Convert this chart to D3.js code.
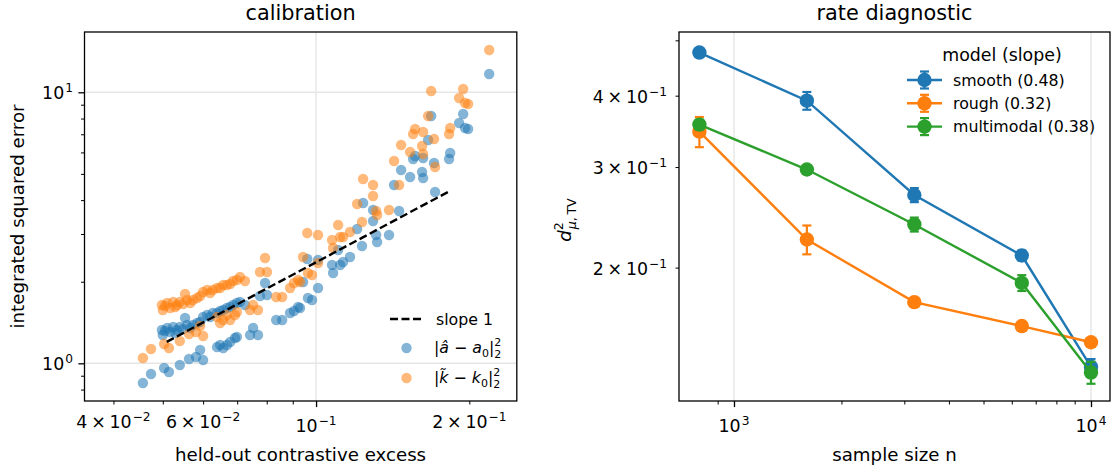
<!DOCTYPE html>
<html>
<head>
<meta charset="utf-8">
<script src="https://cdn.jsdelivr.net/npm/d3@7"></script>
<style>
  body { margin: 0; background: #fff; }
  text { font-family: "DejaVu Sans", sans-serif; fill: #000; }
</style>
</head>
<body>
<svg id="fig" width="1112" height="470"></svg>
<script>
// calibration: held-out contrastive excess vs integrated squared error
var excess = [0.0457, 0.0474, 0.0503, 0.0514, 0.0540, 0.0563, 0.0581, 0.0600, 0.0592,
	0.0498, 0.0500, 0.0510, 0.0517, 0.0524, 0.0533, 0.0540, 0.0553, 0.0558, 0.0566, 0.0573,
	0.0584, 0.0592, 0.0600, 0.0611, 0.0619, 0.0627, 0.0639, 0.0648, 0.0657, 0.0668, 0.0678,
	0.0687, 0.0699, 0.0709, 0.0725, 0.0505, 0.0529, 0.0548,
	0.0639, 0.0648, 0.0657, 0.0668, 0.0678, 0.0693, 0.0699, 0.0742, 0.0752, 0.0769,
	0.0776, 0.0794, 0.0801, 0.0835, 0.0858, 0.0889, 0.0905, 0.0922, 0.0943, 0.0930, 0.0961,
	0.0982, 0.1009, 0.1009, 0.0964, 0.1075, 0.1080, 0.1115, 0.1130, 0.1166, 0.1105, 0.1231,
	0.1204, 0.1237, 0.1294, 0.1294, 0.1312, 0.1318, 0.1391, 0.1423, 0.1456, 0.1469, 0.1530,
	0.1551, 0.1565, 0.1615, 0.1623, 0.1623, 0.1660, 0.1683, 0.1705, 0.1713, 0.1825, 0.1834,
	0.1910, 0.1945, 0.1962, 0.1989, 0.2188];
var errA = [0.846, 0.913, 0.961, 0.929, 0.986, 1.037, 1.055, 1.028, 1.120,
	1.327, 1.272, 1.350, 1.305, 1.361, 1.327, 1.361, 1.470, 1.385, 1.350, 1.385,
	1.408, 1.420, 1.482, 1.508, 1.482, 1.533, 1.533, 1.560, 1.573, 1.600, 1.614,
	1.641, 1.669, 1.684, 1.641, 1.316, 1.294, 1.338,
	1.148, 1.168, 1.139, 1.168, 1.198, 1.240, 1.250, 1.272, 1.350, 1.272,
	1.771, 1.979, 1.786, 1.445, 1.445, 1.533, 1.560, 1.614, 1.995, 1.600, 2.426,
	1.713, 1.896, 2.406, 1.742, 2.305, 2.154, 2.305, 2.365, 2.468, 2.619, 2.709,
	3.130, 3.904, 3.679, 3.350, 2.974, 2.803, 2.974, 4.549, 3.648, 5.169, 4.869,
	5.675, 5.821, 5.082, 5.723, 4.828, 6.668, 8.176, 5.485, 4.287, 5.675, 5.970,
	7.704, 8.317, 7.385, 7.323, 11.68];
var errK = [1.046, 1.129, 1.178, 1.139, 1.209, 1.283, 1.305, 1.261, 1.373,
	1.641, 1.573, 1.669, 1.600, 1.684, 1.641, 1.684, 1.802, 1.713, 1.669, 1.713,
	1.742, 1.771, 1.833, 1.864, 1.817, 1.864, 1.896, 1.896, 1.945, 1.945, 1.962,
	2.012, 2.029, 2.082, 2.012, 1.627, 1.614, 1.655,
	1.482, 1.408, 1.445, 1.508, 1.445, 1.508, 1.546, 1.573, 1.641, 1.573,
	2.173, 2.447, 2.173, 1.757, 1.757, 1.896, 1.979, 2.029, 2.468, 1.995, 3.026,
	2.118, 2.345, 2.974, 2.154, 2.851, 2.664, 2.925, 2.925, 3.052, 3.238, 3.322,
	3.871, 4.787, 4.549, 4.143, 3.648, 3.526, 3.679, 5.579, 4.549, 6.391, 6.023,
	7.018, 7.323, 6.337, 7.138, 5.921, 8.176, 10.11, 6.725, 5.302, 7.018, 7.385,
	9.528, 10.28, 9.132, 9.054, 14.32];
var slopeX = [0.0509, 0.183];
var slopeY = [1.20, 4.32];

// rate diagnostic: sample size vs squared TV distance
var sampleSizes = [800, 1600, 3200, 6400, 10000];
var smoothMean = [0.476, 0.392, 0.268, 0.210, 0.134];
var smoothErr = [0.004, 0.014, 0.0076, 0.0042, 0.0043];
var roughMean = [0.346, 0.224, 0.174, 0.158, 0.148];
var roughErr = [0.021, 0.013, 0.002, 0.0015, 0.002];
var multiMean = [0.356, 0.297, 0.238, 0.188, 0.131];
var multiErr = [0.007, 0.005, 0.0067, 0.006, 0.0058];
var modelNames = ["smooth (0.48)", "rough (0.32)", "multimodal (0.38)"];

var blue = "#1f77b4", orange = "#ff7f0e", green = "#2ca02c";
var svg = d3.select("#fig");

function ticks(g, orient, scale, values, size) {
	var axis = (orient === "bottom" ? d3.axisBottom(scale) : d3.axisLeft(scale))
		.tickValues(values).tickSize(size).tickSizeOuter(0).tickFormat("");
	g.call(axis);
	g.select(".domain").remove();
	g.selectAll(".tick line").attr("stroke", "#000").attr("stroke-width", size > 5 ? 1.3 : 1);
}

// a x 10^b tick label
function powLabel(g, x, y, anchor, mant, exp) {
	var t = g.append("text")
		.attr("x", x).attr("y", y)
		.attr("text-anchor", anchor)
		.attr("font-size", 17.4);
	if (mant !== 1) {
		t.append("tspan").text(mant);
		t.append("tspan").attr("dx", 3.8).text("\u00d7");
		t.append("tspan").attr("dx", 3.8).text("10");
	} else {
		t.append("tspan").text("10");
	}
	t.append("tspan").attr("dx", 1).attr("dy", -7).attr("font-size", 12.2).text(exp);
}

function frame(x0, x1, y0, y1) {
	svg.append("rect")
		.attr("x", x0).attr("y", y0)
		.attr("width", x1 - x0).attr("height", y1 - y0)
		.attr("fill", "none").attr("stroke", "#000").attr("stroke-width", 1.3);
}

//---------------- left panel ----------------
var calX = d3.scaleLog().domain([0.03509, 0.2479]).range([84.5, 516.8]);
var calY = d3.scaleLog().domain([0.726, 16.69]).range([401, 32]);

var left = svg.append("g");

//grid
left.append("line").attr("x1", calX(0.1)).attr("x2", calX(0.1)).attr("y1", 32).attr("y2", 401)
	.attr("stroke", "#e6e6e6").attr("stroke-width", 1.4);
[1, 10].forEach(function (v) {
	left.append("line").attr("x1", 84.5).attr("x2", 516.8).attr("y1", calY(v)).attr("y2", calY(v))
		.attr("stroke", "#e6e6e6").attr("stroke-width", 1.4);
});

//add dots
left.selectAll("circle.a").data(excess).enter().append("circle")
	.attr("class", "a")
	.attr("cx", function (d) { return calX(d); })
	.attr("cy", function (d, i) { return calY(errA[i]); })
	.attr("r", 5.2)
	.attr("fill", blue).attr("fill-opacity", 0.55);
left.selectAll("circle.k").data(excess).enter().append("circle")
	.attr("class", "k")
	.attr("cx", function (d) { return calX(d); })
	.attr("cy", function (d, i) { return calY(errK[i]); })
	.attr("r", 5.2)
	.attr("fill", orange).attr("fill-opacity", 0.55);

//slope 1 reference
left.append("line")
	.attr("x1", calX(slopeX[0])).attr("y1", calY(slopeY[0]))
	.attr("x2", calX(slopeX[1])).attr("y2", calY(slopeY[1]))
	.attr("stroke", "#000").attr("stroke-width", 2.4).attr("stroke-dasharray", "8,3.5");

frame(84.5, 516.8, 32, 401);

//ticks
var lxMinor = [0.04, 0.05, 0.06, 0.07, 0.08, 0.09, 0.2];
ticks(left.append("g").attr("transform", "translate(0,401)"), "bottom", calX, lxMinor, 3.5);
ticks(left.append("g").attr("transform", "translate(0,401)"), "bottom", calX, [0.1], 6.1);
var lyMinor = [0.8, 0.9, 2, 3, 4, 5, 6, 7, 8, 9];
ticks(left.append("g").attr("transform", "translate(84.5,0)"), "left", calY, lyMinor, 3.5);
ticks(left.append("g").attr("transform", "translate(84.5,0)"), "left", calY, [1, 10], 6.1);

powLabel(left, calX(0.04), 428, "middle", 4, "\u22122");
powLabel(left, calX(0.06), 428, "middle", 6, "\u22122");
powLabel(left, calX(0.1), 432, "middle", 1, "\u22121");
powLabel(left, calX(0.2), 428, "middle", 2, "\u22121");
powLabel(left, 73, calY(10) + 7, "end", 1, "1");
powLabel(left, 73, calY(1) + 7, "end", 1, "0");

left.append("text").attr("x", 300.6).attr("y", 20).attr("text-anchor", "middle")
	.attr("font-size", 20.8).text("calibration");
left.append("text").attr("x", 300.6).attr("y", 461).attr("text-anchor", "middle")
	.attr("font-size", 18.2).text("held-out contrastive excess");
left.append("text").attr("transform", "translate(24,216.5) rotate(-90)").attr("text-anchor", "middle")
	.attr("font-size", 18.2).text("integrated squared error");

//legend
var lg = left.append("g").attr("font-size", 15.8);
lg.append("line").attr("x1", 390).attr("x2", 423).attr("y1", 319).attr("y2", 319)
	.attr("stroke", "#000").attr("stroke-width", 2.4).attr("stroke-dasharray", "8,3.5");
lg.append("text").attr("x", 436).attr("y", 324.5).attr("font-size", 15.8).text("slope 1");
lg.append("circle").attr("cx", 406.5).attr("cy", 348).attr("r", 5.2).attr("fill", blue).attr("fill-opacity", 0.55);
lg.append("circle").attr("cx", 406.5).attr("cy", 378).attr("r", 5.2).attr("fill", orange).attr("fill-opacity", 0.55);

function normLabel(y, hat, sym) {
	var t = lg.append("text").attr("x", 434).attr("y", y).attr("font-size", 15.8);
	t.append("tspan").text("|");
	t.append("tspan").attr("font-style", "italic").text(hat);
	t.append("tspan").text(" \u2212 ");
	t.append("tspan").attr("font-style", "italic").text(sym);
	t.append("tspan").attr("font-size", 11).attr("dy", 3.5).text("0");
	t.append("tspan").attr("dy", -3.5).text("|");
	t.append("tspan").attr("font-size", 11).attr("dy", -7).text("2");
	t.append("tspan").attr("font-size", 11).attr("dx", -7).attr("dy", 11.5).text("2");
}
normLabel(353, "\u00e2", "a");
normLabel(383, "k\u0303", "k");

//---------------- right panel ----------------
var rateX = d3.scaleLog().domain([701.4, 11304]).range([679, 1110]);
var rateY = d3.scaleLog().domain([0.1168, 0.5171]).range([401, 32]);

var right = svg.append("g");

[1000, 10000].forEach(function (v) {
	right.append("line").attr("x1", rateX(v)).attr("x2", rateX(v)).attr("y1", 32).attr("y2", 401)
		.attr("stroke", "#e6e6e6").attr("stroke-width", 1.4);
});

var series = [
	{ mean: smoothMean, err: smoothErr, color: blue },
	{ mean: roughMean, err: roughErr, color: orange },
	{ mean: multiMean, err: multiErr, color: green }
];

var line = d3.line()
	.x(function (d) { return rateX(d[0]); })
	.y(function (d) { return rateY(d[1]); });

series.forEach(function (s) {
	var g = right.append("g");
	var pts = sampleSizes.map(function (n, i) { return [n, s.mean[i], s.err[i]]; });
	g.selectAll("line.bar").data(pts).enter().append("line")
		.attr("x1", function (d) { return rateX(d[0]); })
		.attr("x2", function (d) { return rateX(d[0]); })
		.attr("y1", function (d) { return rateY(d[1] - d[2]); })
		.attr("y2", function (d) { return rateY(d[1] + d[2]); })
		.attr("stroke", s.color).attr("stroke-width", 2.2);
	[-1, 1].forEach(function (sign) {
		g.selectAll("line.cap" + sign).data(pts).enter().append("line")
			.attr("x1", function (d) { return rateX(d[0]) - 4.5; })
			.attr("x2", function (d) { return rateX(d[0]) + 4.5; })
			.attr("y1", function (d) { return rateY(d[1] + sign * d[2]); })
			.attr("y2", function (d) { return rateY(d[1] + sign * d[2]); })
			.attr("stroke", s.color).attr("stroke-width", 2.2);
	});
	g.append("path").datum(pts).attr("d", line)
		.attr("fill", "none").attr("stroke", s.color).attr("stroke-width", 2.4);
	g.selectAll("circle").data(pts).enter().append("circle")
		.attr("cx", function (d) { return rateX(d[0]); })
		.attr("cy", function (d) { return rateY(d[1]); })
		.attr("r", 7.2).attr("fill", s.color);
});

frame(679, 1110, 32, 401);

var rxMinor = [900, 2000, 3000, 4000, 5000, 6000, 7000, 8000, 9000];
ticks(right.append("g").attr("transform", "translate(0,401)"), "bottom", rateX, rxMinor, 3.5);
ticks(right.append("g").attr("transform", "translate(0,401)"), "bottom", rateX, [1000, 10000], 6.1);
ticks(right.append("g").attr("transform", "translate(679,0)"), "left", rateY, [0.2, 0.3, 0.4, 0.5], 3.5);

powLabel(right, rateX(1000), 432, "middle", 1, "3");
powLabel(right, rateX(10000), 432, "middle", 1, "4");
[0.4, 0.3, 0.2].forEach(function (v) {
	powLabel(right, 667, rateY(v) + 7, "end", Math.round(v * 10), "\u22121");
});

right.append("text").attr("x", 894.5).attr("y", 20).attr("text-anchor", "middle")
	.attr("font-size", 20.8).text("rate diagnostic");
right.append("text").attr("x", 894.5).attr("y", 461).attr("text-anchor", "middle")
	.attr("font-size", 18.2).text("sample size n");

var yl = right.append("text").attr("transform", "translate(571,220) rotate(-90)")
	.attr("text-anchor", "middle").attr("font-size", 18.2);
yl.append("tspan").attr("font-style", "italic").text("d");
yl.append("tspan").attr("font-size", 12.6).attr("dy", -8).text("2");
yl.append("tspan").attr("font-size", 12.6).attr("font-style", "italic").attr("dx", -7).attr("dy", 12.5).text("\u03bc");
yl.append("tspan").attr("font-size", 12.6).text(",\u2009TV");

//legend
var rl = right.append("g");
rl.append("text").attr("x", 1002).attr("y", 61).attr("text-anchor", "middle")
	.attr("font-size", 17.4).text("model (slope)");
series.forEach(function (s, i) {
	var y = 80 + i * 23.3;
	rl.append("line").attr("x1", 907).attr("x2", 942).attr("y1", y).attr("y2", y)
		.attr("stroke", s.color).attr("stroke-width", 2.4);
	rl.append("line").attr("x1", 924.5).attr("x2", 924.5).attr("y1", y - 8.5).attr("y2", y + 8.5)
		.attr("stroke", s.color).attr("stroke-width", 2.2);
	[-8.5, 8.5].forEach(function (o) {
		rl.append("line").attr("x1", 920).attr("x2", 929).attr("y1", y + o).attr("y2", y + o)
			.attr("stroke", s.color).attr("stroke-width", 2.2);
	});
	rl.append("circle").attr("cx", 924.5).attr("cy", y).attr("r", 7.2).attr("fill", s.color);
	rl.append("text").attr("x", 953).attr("y", y + 5.5).attr("font-size", 15.8).text(modelNames[i]);
});
</script>
</body>
</html>
